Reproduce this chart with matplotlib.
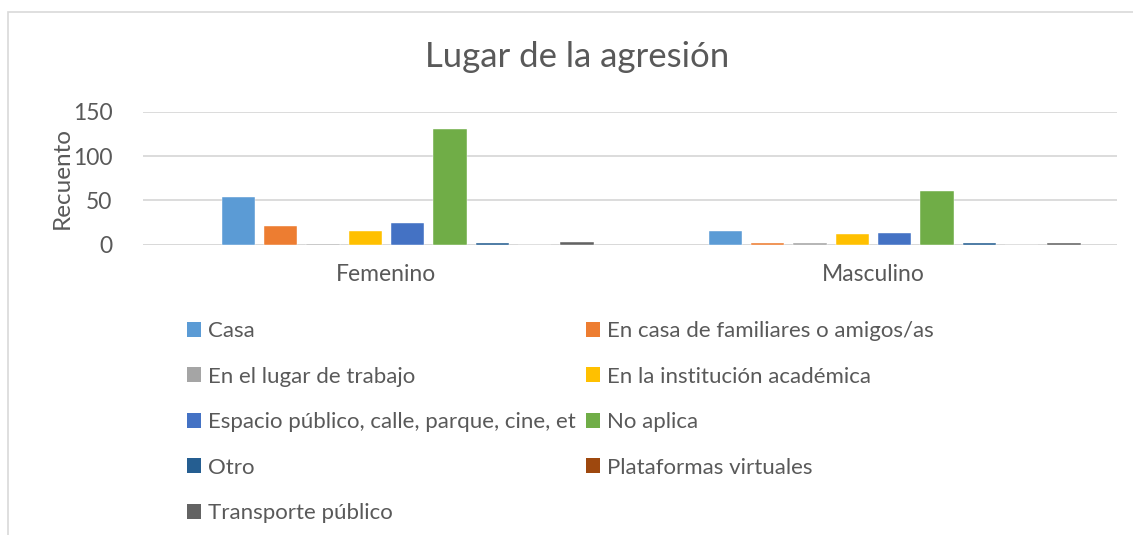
import numpy as np
import matplotlib
matplotlib.use("Agg")
import matplotlib.pyplot as plt
from matplotlib.patches import Patch, Rectangle

plt.rcParams["font.family"] = ["Lato", "DejaVu Sans"]

TEXT = "#595959"
GRID = "#D9D9D9"

groups = ["Femenino", "Masculino"]
series = [
    "Casa",
    "En casa de familiares o amigos/as",
    "En el lugar de trabajo",
    "En la institución académica",
    "Espacio público, calle, parque, cine, et",
    "No aplica",
    "Otro",
    "Plataformas virtuales",
    "Transporte público",
]
colors = ["#5B9BD5", "#ED7D31", "#A5A5A5", "#FFC000", "#4472C4",
          "#70AD47", "#255E91", "#9E480E", "#636363"]
femenino = [54, 21, 1, 15, 24, 131, 2, 0, 3]
masculino = [15, 2, 2, 12, 13, 61, 2, 0, 2]
yticks = [0, 50, 100, 150]

W, H = 1133, 535
fig = plt.figure(figsize=(W / 100, H / 100), dpi=100)

# chart border (cut off at right and bottom like the source)
fig.patches.append(Rectangle((8 / W, -0.1), 1.2, (H - 12) / H + 0.1,
                             transform=fig.transFigure, fill=False,
                             edgecolor=GRID, linewidth=1.2))

ax = fig.add_axes([143 / W, (H - 244.7) / H, (1117 - 143) / W, 133 / H])

# ten slots per group, first slot is an empty series
n_slots = 10
pitch = 0.0869
bar_w = 0.0685
x = np.arange(len(groups))
values = np.array([femenino, masculino])
for i, (name, col) in enumerate(zip(series, colors)):
    offset = (i + 1 - (n_slots - 1) / 2) * pitch
    ax.bar(x + offset, values[:, i], width=bar_w, color=col,
           edgecolor="white", linewidth=0.3, zorder=3, label=name)

ax.set_xlim(-0.5, 1.5)
ax.set_ylim(0, 150)
ax.set_yticks(yticks)
ax.set_xticks(x)
ax.set_xticklabels(groups)
ax.grid(axis="y", color=GRID, linewidth=1.3, zorder=0)
for s in ax.spines.values():
    s.set_visible(False)
ax.axhline(0, color=GRID, linewidth=1.3, zorder=2)
ax.tick_params(axis="both", length=0, colors=TEXT, labelsize=16.5)
ax.tick_params(axis="x", pad=14)
ax.tick_params(axis="y", pad=22)
ax.set_ylabel("Recuento", color=TEXT, fontsize=17.5, labelpad=0)

fig.text(577 / W, (H - 57) / H, "Lugar de la agresión", ha="center",
         va="center", color=TEXT, fontsize=25)

handles = [Patch(facecolor=c, edgecolor="none") for c in colors]
order = [0, 2, 4, 6, 8, 1, 3, 5, 7]
leg = fig.legend([handles[k] for k in order], [series[k] for k in order],
                 ncol=2, loc="upper left", bbox_to_anchor=(187 / W, (H - 321) / H),
                 frameon=False, fontsize=16, labelcolor=TEXT,
                 handlelength=0.65, handleheight=0.65, handletextpad=0.3,
                 columnspacing=0.45, labelspacing=1.15, borderaxespad=0,
                 borderpad=0)

fig.savefig("out.png", dpi=100)
